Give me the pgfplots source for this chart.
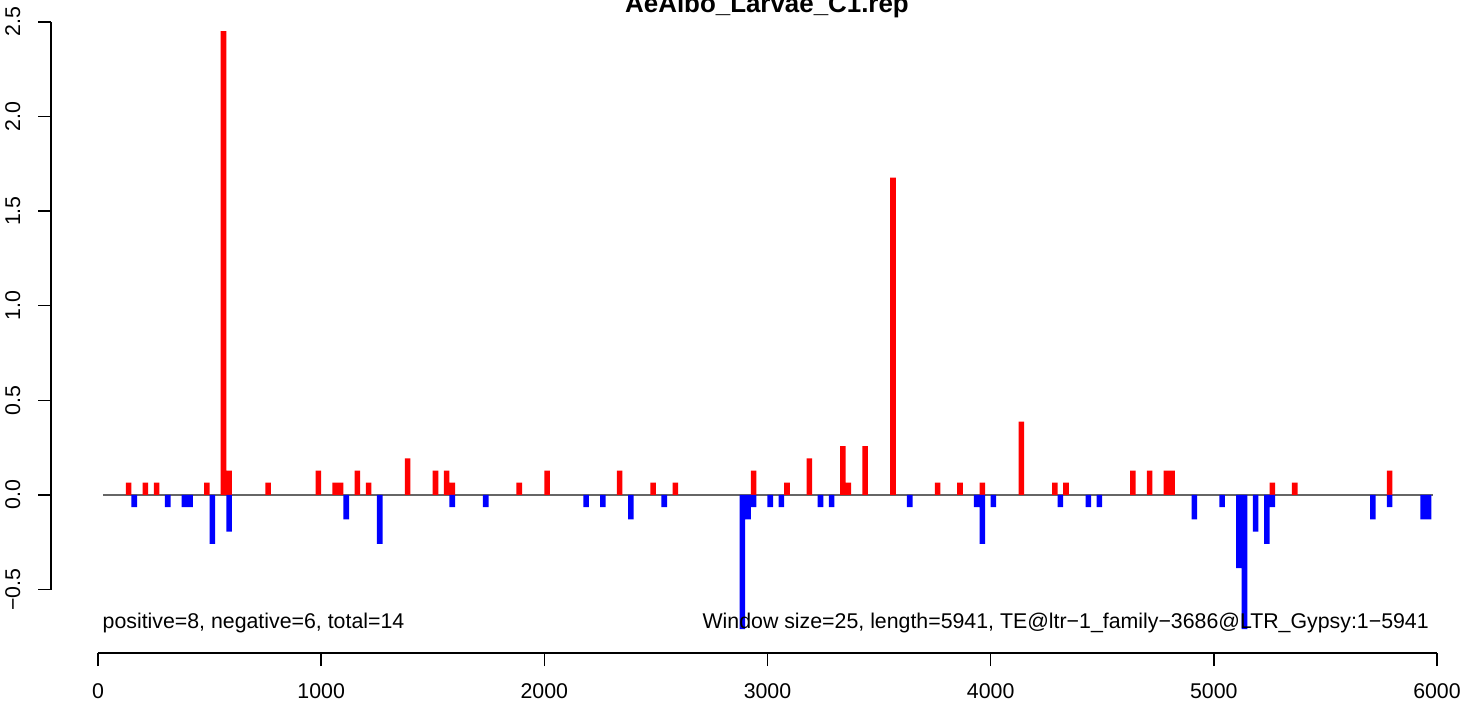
\documentclass[border=0pt]{standalone}
\usepackage{fontspec}
\setmainfont{Liberation Sans}
\usepackage{pgfplots}
\pgfplotsset{compat=1.18}

% window counts: one step = 0.0645
\begin{document}
\begin{tikzpicture}
\begin{axis}[
  at={(51bp,48bp)}, anchor=south west,
  scale only axis, width=1434bp, height=646bp,
  xmin=-210.6, xmax=6215.1, ymin=-0.835, ymax=2.578,
  clip=false,
  axis x line*=bottom, axis y line*=left,
  axis line style={draw=none},
  tick align=outside, major tick length=13bp,
  tick style={black, line width=1.6bp},
  xtick={0,1000,2000,3000,4000,5000,6000},
  xticklabels={0,1000,2000,3000,4000,5000,6000},
  ytick={-0.5,0,0.5,1,1.5,2,2.5},
  yticklabels={−0.5,0.0,0.5,1.0,1.5,2.0,2.5},
  tick label style={font=\fontsize{21.4}{21.4}\selectfont, inner sep=0pt},
  xticklabel style={anchor=base, yshift=-32bp},
  yticklabel style={xshift=-18bp, rotate=90, anchor=base},
]
\draw[line width=1.6bp] (axis cs:0,-0.835) -- (axis cs:6000,-0.835);
\draw[line width=1.6bp] (axis cs:-210.6,-0.5) -- (axis cs:-210.6,2.5);

\addplot[black!60, line width=1.5bp] coordinates {(22,0) (5982,0)};

\addplot[ybar, bar width=25, bar shift=0pt, fill=red, draw=none] coordinates {
(137.5,0.0645) (212.5,0.0645) (262.5,0.0645) (487.5,0.0645) (562.5,2.451)
(587.5,0.129) (762.5,0.0645) (987.5,0.129) (1062.5,0.0645) (1087.5,0.0645)
(1162.5,0.129) (1212.5,0.0645) (1387.5,0.1935) (1512.5,0.129) (1562.5,0.129)
(1587.5,0.0645) (1887.5,0.0645) (2012.5,0.129) (2337.5,0.129) (2487.5,0.0645)
(2587.5,0.0645) (2937.5,0.129) (3087.5,0.0645) (3187.5,0.1935) (3337.5,0.258)
(3362.5,0.0645) (3437.5,0.258) (3562.5,1.677) (3762.5,0.0645) (3862.5,0.0645)
(3962.5,0.0645) (4137.5,0.387) (4287.5,0.0645) (4337.5,0.0645) (4637.5,0.129)
(4712.5,0.129) (4787.5,0.129) (4812.5,0.129) (5262.5,0.0645) (5362.5,0.0645)
(5787.5,0.129)
};

\addplot[ybar, bar width=25, bar shift=0pt, fill=blue, draw=none] coordinates {
(162.5,-0.0645) (312.5,-0.0645) (387.5,-0.0645) (412.5,-0.0645) (512.5,-0.258)
(587.5,-0.1935) (1112.5,-0.129) (1262.5,-0.258) (1587.5,-0.0645) (1737.5,-0.0645)
(2187.5,-0.0645) (2262.5,-0.0645) (2387.5,-0.129) (2537.5,-0.0645) (2887.5,-0.7095)
(2912.5,-0.129) (2937.5,-0.0645) (3012.5,-0.0645) (3062.5,-0.0645) (3237.5,-0.0645)
(3287.5,-0.0645) (3637.5,-0.0645) (3937.5,-0.0645) (3962.5,-0.258) (4012.5,-0.0645)
(4312.5,-0.0645) (4437.5,-0.0645) (4487.5,-0.0645) (4912.5,-0.129) (5037.5,-0.0645)
(5112.5,-0.387) (5137.5,-0.7095) (5187.5,-0.1935) (5237.5,-0.258) (5262.5,-0.0645)
(5712.5,-0.129) (5787.5,-0.0645) (5937.5,-0.129) (5962.5,-0.129)
};

\node[anchor=base west, inner sep=0pt, font=\fontsize{21.4}{21.4}\selectfont]
  at (axis cs:20,-0.703) {positive=8, negative=6, total=14};
\node[anchor=base east, inner sep=0pt, font=\fontsize{21.4}{21.4}\selectfont]
  at (axis cs:5964,-0.703) {Window size=25, length=5941, TE@ltr−1\_family−3686@LTR\_Gypsy:1−5941};
\end{axis}
\node[anchor=base, inner sep=0pt, font=\bfseries\fontsize{26}{26}\selectfont]
  at (767bp,688.5bp) {AeAlbo\_Larvae\_C1.rep};
\pgfresetboundingbox
\useasboundingbox (0,0) rectangle (1464bp,701bp);
\end{tikzpicture}
\end{document}
